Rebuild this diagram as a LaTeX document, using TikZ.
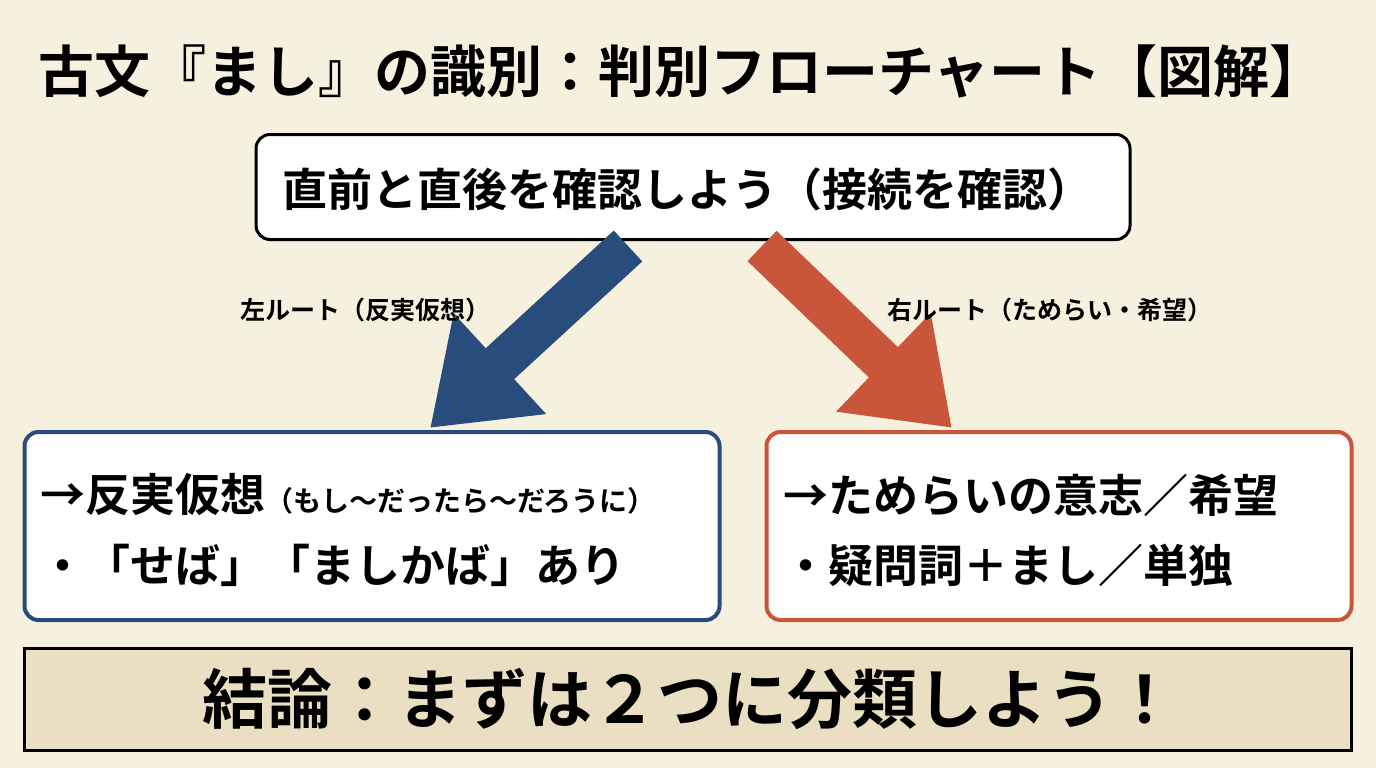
\documentclass[tikz,border=0pt]{standalone}
\usepackage{fontspec}
\setmainfont{Noto Sans CJK JP}[BoldFont={* Bold}]
\usetikzlibrary{arrows.meta}
\definecolor{bg}{HTML}{F6F0DF}
\definecolor{bl}{HTML}{284C7C}
\definecolor{rd}{HTML}{C9553A}
\definecolor{concl}{HTML}{EADFC2}
\tikzset{
  box/.style={draw, line width=4pt, rounded corners=14pt, fill=white},
  bodytxt/.style={anchor=west, inner sep=0pt, font=\bfseries\fontsize{45}{50}\selectfont},
  lbl/.style={font=\bfseries\fontsize{25}{28}\selectfont},
  bigarrow/.style={line width=42pt, -{Triangle[length=95pt,width=130pt]}},
}
\begin{document}
\begin{tikzpicture}[x=1pt,y=-1pt]
\fill[bg] (0,0) rectangle (1376,768);
\useasboundingbox (0,0) rectangle (1376,768);
\node[font=\bfseries\fontsize{56}{62}\selectfont] (title) at (682,72) {古文『まし』の識別：判別フローチャート【図解】};
\node[box, draw=black, minimum width=874pt, minimum height=105pt, line width=3pt] (top) at (693,187) {};
\node[font=\bfseries\fontsize{45}{50}\selectfont] (toptxt) at (687,189) {直前と直後を確認しよう（接続を確認）};
\coordinate (ls) at (628,246);
\coordinate (le) at (430,428);
\coordinate (rs) at (762,246);
\coordinate (re) at (952,428);
\draw[bigarrow, bl] (ls) -- (le);
\draw[bigarrow, rd] (rs) -- (re);
\node[lbl] (ll) at (365,310) {左ルート（反実仮想）};
\node[lbl] (rl) at (1050,310) {右ルート（ためらい・希望）};
\node[box, draw=bl, minimum width=695pt, minimum height=188pt] (lb) at (372,526) {};
\node[box, draw=rd, minimum width=585pt, minimum height=188pt] (rb) at (1059,526) {};
\node[bodytxt] (l1) at (40,495) {→反実仮想\fontsize{28}{32}\selectfont（もし〜だったら〜だろうに）};
\node[bodytxt] (l2) at (40,565) {・「せば」「ましかば」あり};
\node[bodytxt] (r1) at (783,495) {→ためらいの意志／希望};
\node[bodytxt] (r2) at (783,565) {・疑問詞＋まし／単独};
\node[draw=black, line width=3pt, fill=concl, minimum width=1327pt, minimum height=102pt] (cb) at (688,699) {};
\node[font=\bfseries\fontsize{65}{70}\selectfont] (ct) at (690,699) {結論：まずは２つに分類しよう！};
\end{tikzpicture}
\end{document}
